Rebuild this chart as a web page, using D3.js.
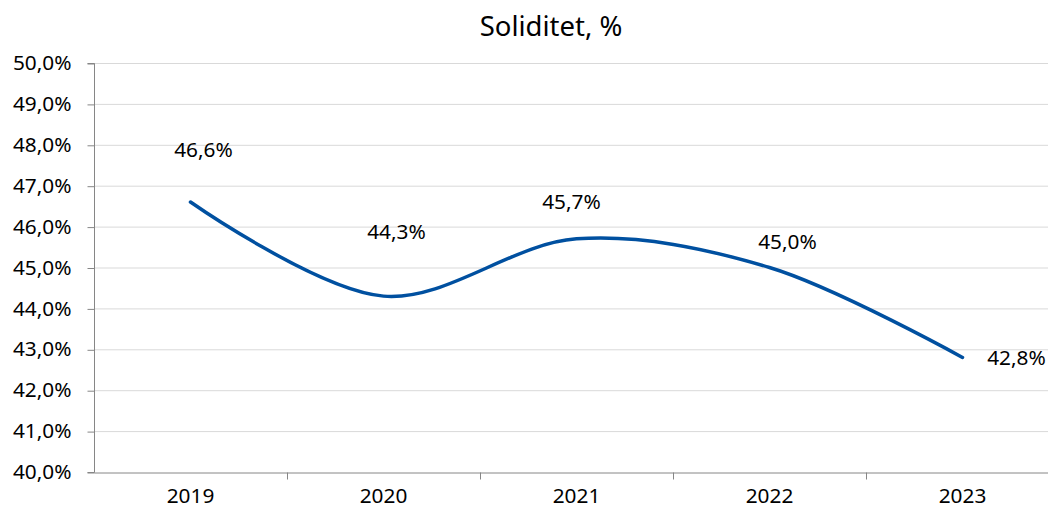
<!DOCTYPE html>
<html><head><meta charset="utf-8">
<script src="https://cdn.jsdelivr.net/npm/d3@7"></script>
<style>body{margin:0;background:#fff;} text{font-family:"Noto Sans",sans-serif;fill:#000;}</style>
</head><body>
<svg id="c" width="1048" height="513"></svg>
<script>
const years = ["2019","2020","2021","2022","2023"];
const values = [46.6, 44.3, 45.7, 45.0, 42.8];
const yTicks = [40,41,42,43,44,45,46,47,48,49,50];
const title = "Soliditet, %";

(function(){
const svg = d3.select("#c");
const mL = 94, mR = 1059, mT = 63, mB = 472;
const x = d3.scaleBand().domain(years).range([mL, mR]);
const y = d3.scaleLinear().domain([40, 50]).range([mB, mT]);
const fmt = v => d3.format(".1f")(v).replace(".", ",") + "%";

// gridlines
svg.append("g").selectAll("line").data(yTicks.slice(1)).join("line")
  .attr("x1", mL).attr("x2", mR)
  .attr("y1", d => y(d) + 0.5).attr("y2", d => y(d) + 0.5)
  .attr("stroke", "#d9d9d9").attr("stroke-width", 1);

// y axis
const ya = svg.append("g").attr("transform", `translate(${mL + 0.5},0)`)
  .call(d3.axisLeft(y).tickValues(yTicks).tickFormat(fmt).tickSize(7).tickPadding(16));
ya.select(".domain").attr("stroke", "#868686").attr("d", `M-7,${mT+0.5}H0V${mB+0.5}H-7`);
ya.selectAll(".tick line").attr("stroke", "#868686").attr("transform", "translate(0,0.5)");
ya.selectAll("text").attr("font-size", "20.8px").attr("font-family", "Noto Sans").attr("fill", "#000");

// x axis
const xa = svg.append("g").attr("transform", `translate(0,${mB + 0.5})`)
  .call(d3.axisBottom(x).tickSize(0).tickPadding(16));
xa.select(".domain").attr("stroke", "#868686");
xa.selectAll("text").attr("font-size", "20.8px").attr("font-family", "Noto Sans").attr("fill", "#000");
xa.append("g").selectAll("line").data(years.slice(1)).join("line")
  .attr("x1", d => Math.round(x(d)) + 0.5).attr("x2", d => Math.round(x(d)) + 0.5)
  .attr("y1", 0).attr("y2", 7).attr("stroke", "#868686");

// line
const cx = d => x(d) + x.bandwidth() / 2;
const line = d3.line().x((d, i) => cx(years[i])).y(d => y(d)).curve(d3.curveCatmullRom.alpha(0.5));
svg.append("path").datum(values).attr("d", line)
  .attr("fill", "none").attr("stroke", "#0050a0").attr("stroke-width", 3.5).attr("stroke-linecap", "round");

// data labels
const dx = [13, 13, -5, 18, 54];
const dy = [-53, -65, -38, -27, 0];
svg.append("g").selectAll("text").data(values).join("text")
  .attr("x", (d, i) => cx(years[i]) + dx[i])
  .attr("y", (d, i) => y(d) + dy[i])
  .attr("text-anchor", "middle").attr("dominant-baseline", "central")
  .attr("font-size", "20.8px").text(fmt);

// title
svg.append("text").attr("x", 551).attr("y", 25).attr("text-anchor", "middle")
  .attr("dominant-baseline", "central").attr("font-size", "27.5px").text(title);
})();
</script>
</body></html>
